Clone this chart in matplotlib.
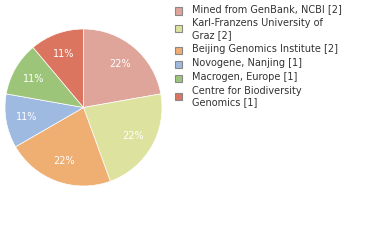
import matplotlib
matplotlib.use('Agg')
import matplotlib.pyplot as plt
from matplotlib.patches import Rectangle

# data
labels = ['Mined from GenBank, NCBI [2]',
          'Karl-Franzens University of\nGraz [2]',
          'Beijing Genomics Institute [2]',
          'Novogene, Nanjing [1]',
          'Macrogen, Europe [1]',
          'Centre for Biodiversity\nGenomics [1]']
counts = [2, 2, 2, 1, 1, 1]
colors = ['#dfa59b', '#dde29e', '#efae72', '#9fbae0', '#9dc57a', '#dc7560']

W, H = 380, 240
fig = plt.figure(figsize=(W / 100, H / 100), dpi=100)

# pie axes, centre about (83.5, 107.5) px, radius ~78.5 px
r = 78.5
cx, cy = 83.5, 107.5
ax = fig.add_axes([(cx - r) / W, (H - cy - r) / H, 2 * r / W, 2 * r / H])
wedges, texts, autotexts = ax.pie(
    counts, colors=colors, startangle=90, counterclock=False,
    autopct=lambda p: '%d%%' % round(p), pctdistance=0.73,
    wedgeprops=dict(linewidth=0.5, edgecolor='white'),
    textprops=dict(color='white', fontsize=7, fontfamily='DejaVu Sans'))
ax.set_xlim(-1, 1)
ax.set_ylim(-1, 1)
ax.set_aspect('auto')

# legend drawn by hand
y = 10.0
line_h = 11.5
for lab, col in zip(labels, colors):
    n = lab.count('\n') + 1
    fig.text(192 / W, 1 - (y - 6) / H, lab, fontsize=7, color='#333333',
             va='top', ha='left', linespacing=1.2, fontfamily='DejaVu Sans')
    sq = y + 1 + (n - 1) * 3.5
    fig.patches.append(Rectangle((175 / W, 1 - (sq + 3.5) / H), 7 / W, 7 / H,
                                 facecolor=col, edgecolor='#888888', linewidth=0.8,
                                 transform=fig.transFigure, figure=fig))
    y += n * line_h + 2.5

fig.savefig('out.png', dpi=100)
